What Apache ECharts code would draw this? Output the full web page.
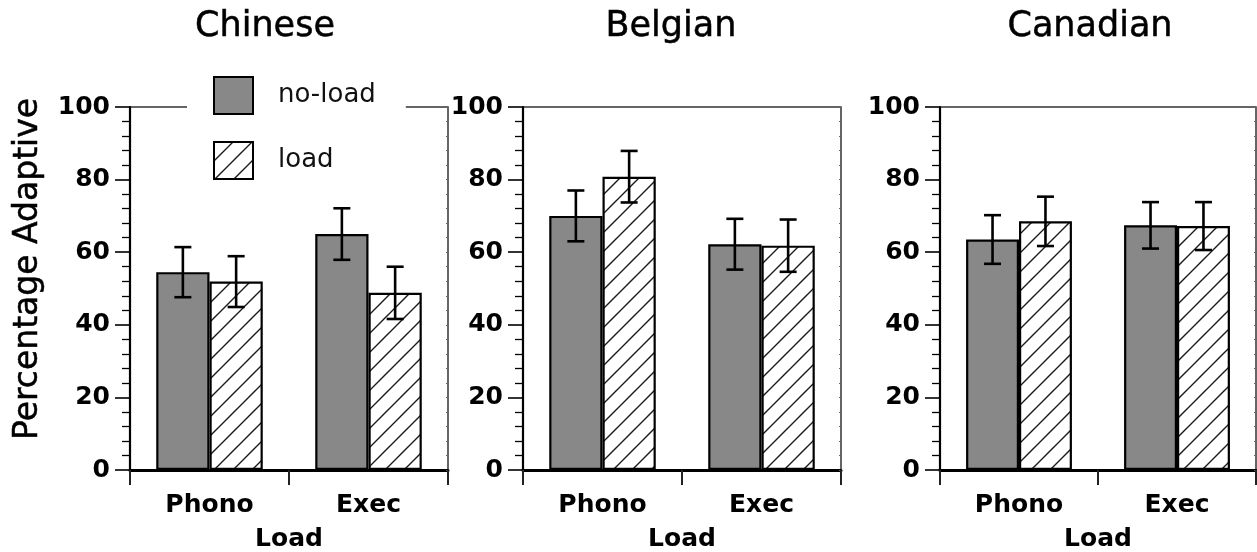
<!DOCTYPE html>
<html>
<head>
<meta charset="utf-8">
<script src="https://cdn.jsdelivr.net/npm/echarts@6/dist/echarts.min.js"></script>
<style>html,body{margin:0;padding:0;background:#fff;}#c{width:1257px;height:552px;}</style>
</head>
<body>
<div id="c"></div>
<script>
// ---- data ----
const panels = ['Chinese', 'Belgian', 'Canadian'];
const categories = ['Phono', 'Exec'];
const yTicks = [0, 20, 40, 60, 80, 100];
// mean values [Phono, Exec]
const chineseNoLoad = [54.5, 65.0];
const chineseLoad = [51.9, 48.8];
const belgianNoLoad = [70.0, 62.2];
const belgianLoad = [80.8, 61.8];
const canadianNoLoad = [63.5, 67.4];
const canadianLoad = [68.5, 67.2];
// error bar half-widths [Phono, Exec]
const chineseNoLoadErr = [6.9, 7.1];
const chineseLoadErr = [7.0, 7.2];
const belgianNoLoadErr = [7.0, 7.0];
const belgianLoadErr = [7.1, 7.2];
const canadianNoLoadErr = [6.7, 6.4];
const canadianLoadErr = [6.8, 6.6];

const noLoadVals = [chineseNoLoad, belgianNoLoad, canadianNoLoad];
const loadVals = [chineseLoad, belgianLoad, canadianLoad];
const noLoadErrs = [chineseNoLoadErr, belgianNoLoadErr, canadianNoLoadErr];
const loadErrs = [chineseLoadErr, belgianLoadErr, canadianLoadErr];

// ---- hatch pattern ----
function hatch() {
  const s = 19;
  const cv = document.createElement('canvas');
  cv.width = s; cv.height = s;
  const g = cv.getContext('2d');
  g.fillStyle = '#fff';
  g.fillRect(0, 0, s, s);
  g.strokeStyle = '#1a1a1a';
  g.lineWidth = 1.4;
  g.beginPath();
  g.moveTo(0, s); g.lineTo(s, 0);
  g.moveTo(-2, 2); g.lineTo(2, -2);
  g.moveTo(s - 2, s + 2); g.lineTo(s + 2, s - 2);
  g.stroke();
  return { image: cv, repeat: 'repeat' };
}
const hatchFill = hatch();

const FONT = 'DejaVu Sans';
const gridLefts = [130, 523, 940];
const gridWidths = [318, 318, 316];
const catGap = 0.33;

const grids = [], xAxes = [], yAxes = [], series = [];
for (let i = 0; i < 3; i++) {
  grids.push({
    left: gridLefts[i], width: gridWidths[i], top: 107, bottom: 82,
    containLabel: false, outerBoundsMode: 'none',
    show: true, borderColor: '#333', borderWidth: 1.5, backgroundColor: 'transparent'
  });
  xAxes.push({
    type: 'category', gridIndex: i, data: categories,
    axisLine: { lineStyle: { color: '#000', width: 3 } },
    axisTick: { show: true, length: 15, lineStyle: { color: '#222', width: 2 } },
    axisLabel: { margin: 23, fontFamily: FONT, fontWeight: 'bold', fontSize: 25, color: '#000' },
    name: 'Load', nameLocation: 'middle', nameGap: 57,
    nameTextStyle: { fontFamily: FONT, fontWeight: 'bold', fontSize: 25, color: '#000' }
  });
  yAxes.push({
    type: 'value', gridIndex: i, min: yTicks[0], max: yTicks[yTicks.length - 1], interval: 20,
    axisLine: { show: true, lineStyle: { color: '#000', width: 2.2 } },
    axisTick: { show: true, length: 15, lineStyle: { color: '#000', width: 1.6 } },
    minorTick: { show: true, splitNumber: 5, length: 8, lineStyle: { color: '#000', width: 1.3 } },
    splitLine: { show: false },
    axisLabel: { margin: 20, fontFamily: FONT, fontWeight: 'bold', fontSize: 25, color: '#000' }
  });
  yAxes.push({
    type: 'value', gridIndex: i, position: 'right', min: 0, max: 100, interval: 20,
    axisLine: { show: false },
    axisTick: { show: true, inside: true, length: 2, lineStyle: { color: '#666', width: 1 } },
    minorTick: { show: true, splitNumber: 5, length: 2, lineStyle: { color: '#666', width: 1 } },
    splitLine: { show: false },
    axisLabel: { show: false }
  });
  series.push({
    name: 'no-load', type: 'bar', xAxisIndex: i, yAxisIndex: 2 * i,
    barGap: '0%', barCategoryGap: (catGap * 100) + '%',
    itemStyle: { color: '#888888', borderColor: '#000', borderWidth: 2.2 },
    data: noLoadVals[i]
  });
  series.push({
    name: 'load', type: 'bar', xAxisIndex: i, yAxisIndex: 2 * i,
    barGap: '0%', barCategoryGap: (catGap * 100) + '%',
    itemStyle: { color: hatchFill, borderColor: '#000', borderWidth: 2.2 },
    data: loadVals[i]
  });
  const errData = [];
  for (let c = 0; c < categories.length; c++) {
    errData.push([c, noLoadVals[i][c] - noLoadErrs[i][c], noLoadVals[i][c] + noLoadErrs[i][c], 0]);
    errData.push([c, loadVals[i][c] - loadErrs[i][c], loadVals[i][c] + loadErrs[i][c], 1]);
  }
  series.push({
    name: 'err' + i, type: 'custom', xAxisIndex: i, yAxisIndex: 2 * i, z: 10,
    silent: true,
    renderItem: function (params, api) {
      const c = api.value(0);
      const band = api.size([1, 0])[0];
      const bw = band * (1 - catGap) / 2;
      const off = api.value(3) === 0 ? -bw / 2 : bw / 2;
      const lo = api.coord([c, api.value(1)]);
      const hi = api.coord([c, api.value(2)]);
      const x = lo[0] + off;
      const cap = 8.5;
      const st = { stroke: '#000', lineWidth: 2.6 };
      return {
        type: 'group', children: [
          { type: 'line', shape: { x1: x, y1: lo[1], x2: x, y2: hi[1] }, style: st },
          { type: 'line', shape: { x1: x - cap, y1: lo[1], x2: x + cap, y2: lo[1] }, style: st },
          { type: 'line', shape: { x1: x - cap, y1: hi[1], x2: x + cap, y2: hi[1] }, style: st }
        ]
      };
    },
    encode: { x: 0, y: [1, 2] },
    data: errData
  });
}

const titleX = [265, 671, 1090];
const graphics = panels.map((p, i) => ({
  type: 'text', x: titleX[i], y: 27,
  style: { text: p, font: '500 35px "' + FONT + '"', fill: '#000', textAlign: 'center', textVerticalAlign: 'middle', stroke: '#000', lineWidth: 0.5 }
}));
graphics.push({
  type: 'text', x: 28, y: 269, rotation: Math.PI / 2,
  style: { text: 'Percentage Adaptive', font: '33px "' + FONT + '"', fill: '#000', textAlign: 'center', textVerticalAlign: 'middle', stroke: '#000', lineWidth: 0.5 }
});

const chart = echarts.init(document.getElementById('c'));
chart.setOption({
  backgroundColor: '#fff',
  animation: false,
  legend: {
    data: ['no-load', 'load'], orient: 'vertical', left: 187, top: 66,
    itemWidth: 39, itemHeight: 37, itemGap: 26, icon: 'rect',
    padding: [10, 30, 10, 26], backgroundColor: '#fff',
    textStyle: { fontFamily: FONT, fontSize: 26, color: '#111', padding: [0, 0, 0, 20] },
    selectedMode: false
  },
  grid: grids, xAxis: xAxes, yAxis: yAxes, series: series,
  graphic: graphics
});
</script>
</body>
</html>
